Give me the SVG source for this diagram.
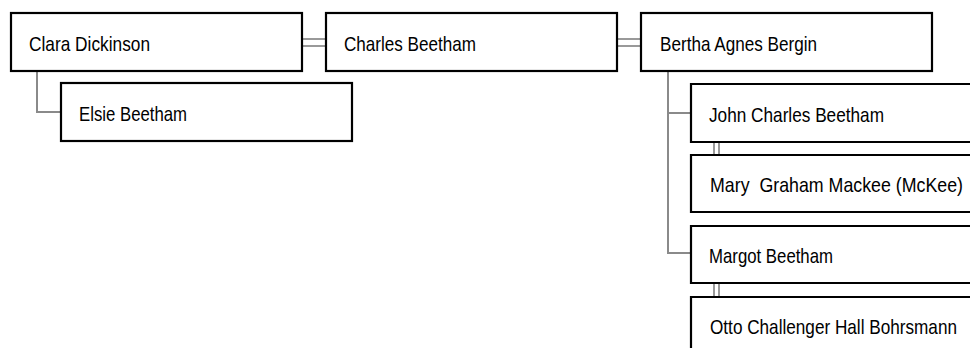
<svg xmlns="http://www.w3.org/2000/svg" width="970" height="348" viewBox="0 0 970 348">
<style>
.box{fill:#fff;stroke:#000;stroke-width:2.2}
.t{font-family:"Liberation Sans",Arial,sans-serif;font-size:21px;fill:#000}
.c{stroke:#8a8a8a;stroke-width:2;fill:none}
.d{stroke:#999;stroke-width:2;fill:none}
</style>
<rect width="970" height="348" fill="#fff"/>
<g id="connectors">
<path class="c" d="M37 71 V112 H61"/>
<path class="c" d="M668 71 V253 H691 M668 113 H691"/>
<path class="d" d="M302 39 H326 M302 46 H326"/>
<path class="d" d="M617 39 H641 M617 46 H641"/>
<path class="d" d="M714 141 V155 M719 141 V155"/>
<path class="d" d="M714 283 V297 M719 283 V297"/>
</g>
<g id="clara"><rect class="box" x="11" y="13" width="291" height="58"/><text class="t" x="29" y="51" textLength="121" lengthAdjust="spacingAndGlyphs">Clara Dickinson</text></g>
<g id="elsie"><rect class="box" x="61" y="83" width="291" height="58"/><text class="t" x="79" y="121" textLength="108" lengthAdjust="spacingAndGlyphs">Elsie Beetham</text></g>
<g id="charles"><rect class="box" x="326" y="13" width="291" height="58"/><text class="t" x="344" y="51" textLength="132" lengthAdjust="spacingAndGlyphs">Charles Beetham</text></g>
<g id="bertha"><rect class="box" x="641" y="13" width="291" height="58"/><text class="t" x="660" y="51" textLength="157" lengthAdjust="spacingAndGlyphs">Bertha Agnes Bergin</text></g>
<g id="john"><path class="box" d="M971 84 H691 V142 H971"/><text class="t" x="709" y="122" textLength="175" lengthAdjust="spacingAndGlyphs">John Charles Beetham</text></g>
<g id="mary"><path class="box" d="M971 155 H691 V212 H971"/><text class="t" x="710" y="192" textLength="253" lengthAdjust="spacingAndGlyphs">Mary&#160; Graham Mackee (McKee)</text></g>
<g id="margot"><path class="box" d="M971 226 H691 V283 H971"/><text class="t" x="709" y="263" textLength="124" lengthAdjust="spacingAndGlyphs">Margot Beetham</text></g>
<g id="otto"><path class="box" d="M971 297 H691 V349"/><text class="t" x="710" y="334" textLength="247" lengthAdjust="spacingAndGlyphs">Otto Challenger Hall Bohrsmann</text></g>
</svg>
